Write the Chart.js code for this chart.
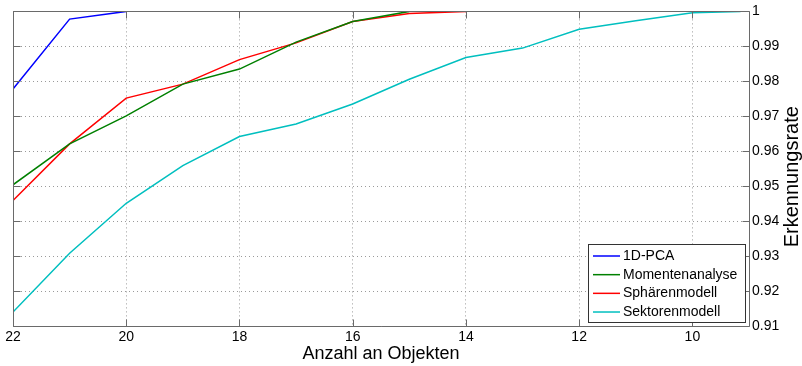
<!DOCTYPE html>
<html lang="de">
<head>
<meta charset="utf-8">
<title>Erkennungsrate</title>
<script src="https://cdn.jsdelivr.net/npm/chart.js@4.4.0/dist/chart.umd.min.js"></script>
<style>
  html, body { margin: 0; padding: 0; background: #fff; }
  canvas { display: block; }
</style>
</head>
<body>
<canvas id="grafico" width="802" height="366"></canvas>
<script>
const anzahl = [22, 21, 20, 19, 18, 17, 16, 15, 14, 13, 12, 11, 10, 9.15];

const pca = [0.9778, 0.9978, 1.0];
const momente = [0.9504, 0.9621, 0.9701, 0.9792, 0.9835, 0.9912, 0.9971, 1.0];
const sphaeren = [0.9459, 0.9621, 0.9752, 0.9792, 0.9862, 0.991, 0.9971, 0.9994, 1.0];
const sektoren = [0.914, 0.9308, 0.9451, 0.9559, 0.9642, 0.9678, 0.9735, 0.9806, 0.9868, 0.9895, 0.9949, 0.9973, 0.9996, 1.0];

const xTicks = [22, 20, 18, 16, 14, 12, 10];
const yTicks = [0.91, 0.92, 0.93, 0.94, 0.95, 0.96, 0.97, 0.98, 0.99, 1];

const xTitel = "Anzahl an Objekten";
const yTitel = "Erkennungsrate";

const schrift = '"Liberation Sans", Arial, sans-serif';
Chart.defaults.font.family = schrift;
Chart.defaults.color = "#000";

function punkte(werte) {
  return werte.map((y, i) => ({ x: anzahl[i], y }));
}

function linie(label, werte, farbe) {
  return {
    label,
    data: punkte(werte),
    borderColor: farbe,
    backgroundColor: farbe,
    borderWidth: 1.5,
    pointRadius: 0,
    fill: false,
    tension: 0,
  };
}

// Rahmen mit Strichen nach innen, wie bei Matlab
const rahmen = {
  id: "rahmen",
  afterDatasetsDraw(chart) {
    const ctx = chart.ctx;
    const a = chart.chartArea;
    const sx = chart.scales.x;
    const sy = chart.scales.y;
    const l = Math.round(a.left) + 0.5;
    const r = Math.round(a.right) + 0.5;
    const t = Math.round(a.top) + 0.5;
    const b = Math.round(a.bottom) + 0.5;
    ctx.save();
    ctx.strokeStyle = "#6a6a6a";
    ctx.lineWidth = 1;
    ctx.beginPath();
    ctx.rect(l, t, r - l, b - t);
    xTicks.forEach((v) => {
      const px = Math.round(sx.getPixelForValue(v)) + 0.5;
      ctx.moveTo(px, b);
      ctx.lineTo(px, b - 7);
      ctx.moveTo(px, t);
      ctx.lineTo(px, t + 7);
    });
    yTicks.forEach((v) => {
      const py = Math.round(sy.getPixelForValue(v)) + 0.5;
      ctx.moveTo(l, py);
      ctx.lineTo(l + 7, py);
      ctx.moveTo(r, py);
      ctx.lineTo(r - 7, py);
    });
    ctx.stroke();
    ctx.restore();
  },
};

const legende = {
  id: "legende",
  afterDraw(chart) {
    const ctx = chart.ctx;
    const a = chart.chartArea;
    const breite = 157;
    const hoehe = 78;
    const x0 = Math.round(a.right) - 4 - breite;
    const y0 = Math.round(a.bottom) - 4 - hoehe;
    ctx.save();
    ctx.fillStyle = "#fff";
    ctx.fillRect(x0, y0, breite, hoehe);
    ctx.strokeStyle = "#333";
    ctx.lineWidth = 1;
    ctx.strokeRect(x0 + 0.5, y0 + 0.5, breite, hoehe);
    ctx.font = "14px " + schrift;
    ctx.textBaseline = "middle";
    chart.data.datasets.forEach((ds, i) => {
      const y = y0 + 12 + i * 18.67;
      ctx.strokeStyle = ds.borderColor;
      ctx.lineWidth = 1.5;
      ctx.beginPath();
      ctx.moveTo(x0 + 5, y);
      ctx.lineTo(x0 + 32, y);
      ctx.stroke();
      ctx.fillStyle = "#000";
      ctx.fillText(ds.label, x0 + 35, y);
    });
    ctx.restore();
  },
};

// Titel der rechten Achse, von unten nach oben gelesen
const yAchsenTitel = {
  id: "yAchsenTitel",
  afterDraw(chart) {
    const ctx = chart.ctx;
    const a = chart.chartArea;
    ctx.save();
    ctx.translate(798, (a.top + a.bottom) / 2 + 8);
    ctx.rotate(-Math.PI / 2);
    ctx.font = "20px " + schrift;
    ctx.textAlign = "center";
    ctx.textBaseline = "alphabetic";
    ctx.fillStyle = "#000";
    ctx.fillText(yTitel, 0, 0);
    ctx.restore();
  },
};

const gitter = { color: "#9a9a9a", lineWidth: 1, drawTicks: false };
const gitterRand = { display: false, dash: [1, 3] };

new Chart(document.getElementById("grafico"), {
  type: "line",
  data: {
    datasets: [
      linie("1D-PCA", pca, "#0000ff"),
      linie("Momentenanalyse", momente, "#008000"),
      linie("Sphärenmodell", sphaeren, "#ff0000"),
      linie("Sektorenmodell", sektoren, "#00bfbf"),
    ],
  },
  options: {
    responsive: false,
    animation: false,
    layout: { padding: { left: 13, top: 10, right: 0, bottom: 0 } },
    plugins: { legend: { display: false }, tooltip: { enabled: false } },
    scales: {
      x: {
        type: "linear",
        min: 9,
        max: 22,
        reverse: true,
        afterBuildTicks: (s) => {
          s.ticks = xTicks.map((v) => ({ value: v }));
        },
        afterFit: (s) => {
          s.height = 40;
        },
        grid: gitter,
        border: gitterRand,
        ticks: { font: { size: 14 }, padding: 3, maxRotation: 0, autoSkip: false },
        title: {
          display: true,
          text: xTitel,
          font: { size: 18 },
          padding: { top: 0, bottom: 1 },
        },
      },
      y: {
        type: "linear",
        position: "right",
        min: 0.91,
        max: 1,
        afterBuildTicks: (s) => {
          s.ticks = yTicks.map((v) => ({ value: v }));
        },
        afterFit: (s) => {
          s.width = 53;
        },
        grid: gitter,
        border: gitterRand,
        ticks: {
          font: { size: 14 },
          padding: 3,
          autoSkip: false,
          callback: (v) => (v === 1 ? "1" : v.toFixed(2)),
        },
      },
    },
  },
  plugins: [rahmen, legende, yAchsenTitel],
});
</script>
</body>
</html>
